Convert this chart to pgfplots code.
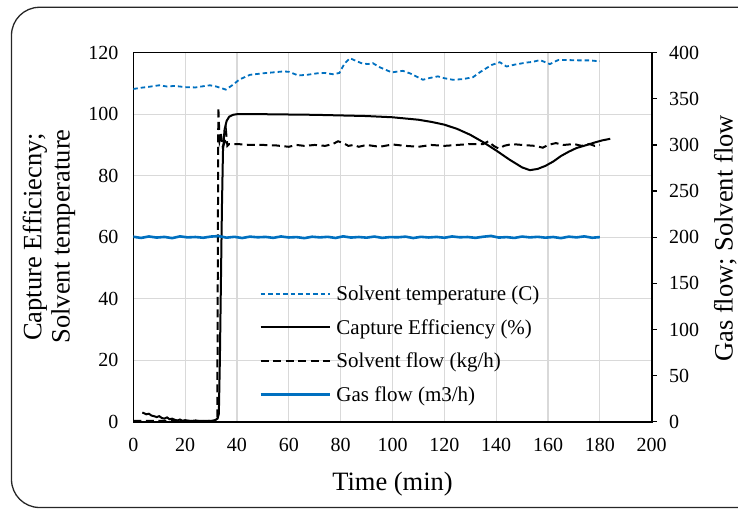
\documentclass[border=0pt]{standalone}
\usepackage{fontspec}
\setmainfont{Liberation Serif}
\usepackage{pgfplots}
\pgfplotsset{compat=1.18}
\definecolor{xblue}{RGB}{0,112,192}
\definecolor{gridc}{RGB}{217,217,217}
\begin{document}
\begin{tikzpicture}
\path[use as bounding box] (0,0) rectangle (738bp,509bp);
\clip (0,0) rectangle (738bp,509bp);
\draw[line width=1.3bp, rounded corners=28bp, black!85] (11.5bp,1.5bp) rectangle (780bp,501.7bp);
\begin{axis}[
  at={(133.3bp,87.3bp)}, anchor=south west, scale only axis,
  width=518.4bp, height=369bp,
  xmin=0, xmax=200, ymin=0, ymax=120,
  xtick={0,20,...,200}, ytick={0,20,...,120},
  grid=major, major grid style={draw=gridc, line width=1.2bp},
  axis line style={line width=1.6bp, black},
  major tick length=0pt,
  tick label style={font=\fontsize{20bp}{24bp}\selectfont},
  /pgf/number format/assume math mode=true,
  xticklabel style={yshift=-12.5bp},
  yticklabel style={xshift=-11.3bp},
]
\addplot[xblue, line width=1.8bp, dash pattern=on 4.5bp off 3bp] coordinates {
(0,108.2) (3,108.6) (6,108.9) (10,109.4) (13,109.0) (16,109.2) (20,108.8) (24,108.7) (27,109.1) (29.6,109.4) (32,109.0) (35.7,108.0) (38,109.3) (41,111.3) (45,112.8) (50,113.3) (54,113.6) (57.8,113.9) (60,113.8) (63.6,112.6) (67,112.8) (71,113.3) (74,113.4) (77,113.0) (79.5,113.4) (81.5,116.5) (83.6,118.2) (86,117.3) (88,116.6) (90.5,116.3) (92.4,116.6) (95,115.3) (99.7,113.6) (104,114.1) (107,113.2) (111.7,111.2) (114.5,111.8) (117.5,112.3) (120,111.7) (123.3,111.2) (127,111.4) (131,112.0) (134,113.8) (138.2,116.0) (141.4,116.9) (144,115.5) (147,116.1) (151.7,116.8) (154,117.0) (156.9,117.6) (160.7,116.3) (163.9,117.6) (168,117.6) (172,117.5) (176,117.5) (180,117.2)
};
\addplot[black, line width=2bp] coordinates {
(3.5,3.0) (5,2.4) (6,2.6) (7,2.0) (8,1.8) (9,1.5) (10,1.8) (11,1.2) (12,1.0) (13,1.4) (14,0.8) (15,1.0) (16,0.6) (17,0.4) (18,0.7) (19,0.3) (20,0.5) (22,0.2) (24,0.4) (26,0.1) (28,0.3) (30,0.2) (31.5,0.5) (32.5,1.0) (33,2.5) (33.4,20) (33.8,45) (34.2,70) (34.6,88) (35.2,95) (36,97.8) (37,99.2) (38.5,99.8) (40,100) (50,100) (60,99.9) (70,99.8) (80,99.6) (90,99.4) (100,99.0) (105,98.6) (110,98.2) (115,97.5) (120,96.6) (125,95.2) (130,93.3) (135,90.9) (140,88.2) (145,85.3) (150,82.7) (153,81.8) (156,82.2) (159,83.2) (162,84.6) (165,86.4) (168,87.8) (171,89.0) (175,90.0) (178,90.8) (181,91.5) (184,92.0)
};
\end{axis}
\begin{axis}[
  at={(133.3bp,87.3bp)}, anchor=south west, scale only axis,
  width=518.4bp, height=369bp,
  xmin=0, xmax=200, ymin=0, ymax=400,
  axis x line=none, axis y line*=right,
  ytick={0,50,...,400},
  axis line style={line width=1.6bp, black},
  tick align=outside, major tick length=5bp,
  every tick/.style={black, line width=1.2bp},
  tick label style={font=\fontsize{20bp}{24bp}\selectfont},
  yticklabel style={xshift=9bp},
  /pgf/number format/assume math mode=true,
  legend cell align=left,
  legend style={at={(0.237,0.3766)}, anchor=north west, draw=none, fill=none,
    font=\fontsize{21bp}{25bp}\selectfont, row sep=15.3bp, column sep=4.5bp,
    nodes={inner sep=1bp}},
  legend image code/.code={\draw[#1] (0bp,0bp) -- (69bp,0bp);},
]
\addlegendimage{xblue, line width=2bp, dash pattern=on 4.5bp off 3bp}
\addlegendentry{Solvent temperature (C)}
\addlegendimage{black, line width=2bp}
\addlegendentry{Capture Efficiency (\%)}
\addplot[black, line width=2bp, dash pattern=on 8bp off 4.5bp] coordinates {
(0,1) (32.4,1) (32.8,341) (33.3,305) (33.8,312) (34.5,298) (35.3,303) (35.8,314) (36.3,299) (37,301) (40,301) (45,300) (50,300) (55,299.5) (60,298) (63,300) (66,299) (70,300) (74,299) (77,301) (79,304) (81,302) (83,299) (85,300) (87,298) (90,300) (95,298) (100,300.5) (105,299) (110,298) (115,300) (120,299) (125,300) (130,301) (135,301) (137,304) (139,299) (141,296) (143,299) (146,301) (150,300) (155,299) (158,297) (160,300) (163,302) (166,300) (170,301) (173,299) (176,301) (178,299) (180,300)
};
\addlegendentry{Solvent flow (kg/h)}
\addplot[xblue, line width=2.6bp] coordinates {
(0,200.5) (3,199.2) (6,200.8) (9,199.6) (12,200.3) (15,199.0) (18,200.9) (21,199.8) (24,200.2) (27,199.4) (30,200.7) (33,201.2) (36,199.5) (39,200.4) (42,199.1) (45,200.6) (48,199.9) (51,200.3) (54,199.3) (57,200.8) (60,199.7) (63,200.1) (66,199.0) (69,200.5) (72,199.8) (75,200.4) (78,199.2) (81,200.9) (84,199.6) (87,200.2) (90,199.5) (93,200.7) (96,199.3) (99,200.1) (102,199.9) (105,200.6) (108,199.1) (111,200.4) (114,199.7) (117,200.3) (120,199.4) (123,200.8) (126,199.9) (129,200.2) (132,199.3) (135,200.5) (138,201.4) (141,199.6) (144,200.1) (147,199.2) (150,200.7) (153,199.8) (156,200.4) (159,199.5) (162,200.2) (165,199.0) (168,200.6) (171,199.8) (174,200.9) (177,199.4) (180,200.1)
};
\addlegendentry{Gas flow (m3/h)}
\end{axis}
\node[rotate=90, anchor=base, font=\fontsize{26.5bp}{30bp}\selectfont] at (41.3bp,272bp) {Capture Efficiecny;};
\node[rotate=90, anchor=base, font=\fontsize{26.5bp}{30bp}\selectfont] at (69.5bp,272.5bp) {Solvent temperature};
\node[rotate=90, anchor=base, font=\fontsize{26.5bp}{30bp}\selectfont] at (732.5bp,270.5bp) {Gas flow; Solvent flow};
\node[anchor=base, font=\fontsize{26.5bp}{30bp}\selectfont] at (392.5bp,19bp) {Time (min)};
\end{tikzpicture}
\end{document}
